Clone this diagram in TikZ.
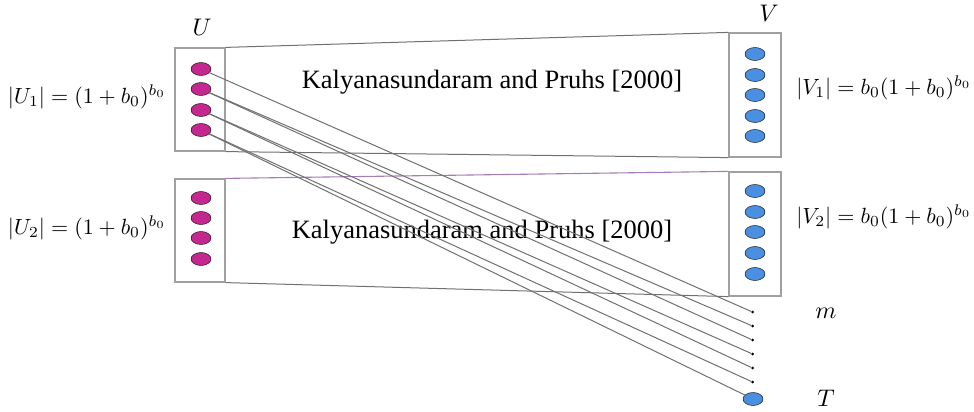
\documentclass[tikz,border=0pt]{standalone}
\usepackage{fontspec}
\newfontfamily\timesfont{Liberation Serif}
\usetikzlibrary{shapes.geometric}

\definecolor{umag}{HTML}{C4288F}
\definecolor{vblue}{HTML}{4A8FE0}
\definecolor{boxgray}{HTML}{A0A0A0}
\definecolor{wiregray}{HTML}{707070}
\definecolor{edgepurple}{HTML}{A77BB5}

\begin{document}
\begin{tikzpicture}[x=1pt, y=-1pt, every node/.style={inner sep=0pt},
  uell/.style={ellipse, draw, fill=umag, minimum width=20pt, minimum height=13pt},
  vell/.style={ellipse, draw, fill=vblue, minimum width=20pt, minimum height=13pt},
  partbox/.style={draw=boxgray, line width=1.2pt},
  mdot/.style={circle, fill, minimum size=3pt},
  wire/.style={draw=wiregray, line width=1pt},
  citetext/.style={anchor=base, font=\timesfont\fontsize{26.5}{31}\selectfont},
  biglabel/.style={scale=2.4},
  sizelabel/.style={scale=2.2}]

\useasboundingbox (0,0) rectangle (974,412);

\node (ub1) [partbox, minimum width=50pt, minimum height=103pt] at (200,99.5) {};
\node (vb1) [partbox, minimum width=52pt, minimum height=124pt] at (755,95) {};
\node (ub2) [partbox, minimum width=50pt, minimum height=103pt] at (200,230.5) {};
\node (vb2) [partbox, minimum width=52pt, minimum height=124pt] at (755,234) {};

\draw[wire] (ub1.north east) -- (vb1.north west);
\draw[wire] (ub1.south east) -- (vb1.south west);
\draw[draw=edgepurple, line width=1.1pt] (ub2.north east) -- (vb2.north west);
\draw[wire] (ub2.south east) -- (vb2.south west);

\node (kp1) [citetext] at (492,88.5) {Kalyanasundaram and Pruhs [2000]};
\node (kp2) [citetext] at (482,238.3) {Kalyanasundaram and Pruhs [2000]};

\foreach \i/\y in {1/69,2/89,3/110,4/130} \node (u1\i) [uell] at (201,\y) {};
\foreach \i/\y in {1/198,2/218,3/238,4/259} \node (u2\i) [uell] at (201,\y) {};
\foreach \i/\y in {1/54,2/75,3/95,4/116,5/136} \node (v1\i) [vell] at (755,\y) {};
\foreach \i/\y in {1/191,2/212,3/232,4/253,5/274} \node (v2\i) [vell] at (755,\y) {};
\foreach \i in {1,...,6} \node (d\i) [mdot] at (752.5,298+14*\i) {};
\node (t) [vell] at (753,399) {};

% edges from U_1 to the m points and T
\draw[wire] (u11) -- (d1);
\draw[wire] (u12) -- (d2);
\draw[wire] (u12) -- (d3);
\draw[wire] (u13) -- (d4);
\draw[wire] (u13) -- (d5);
\draw[wire] (u14) -- (d6);
\draw[wire] (u14) -- (t);

\node (lu) [biglabel] at (202,27) {$U$};
\node (lv) [biglabel] at (769,13) {$V$};
\node (lu1) [sizelabel] at (87,97) {$|U_1| = (1+b_0)^{b_0}$};
\node (lu2) [sizelabel] at (87,228) {$|U_2| = (1+b_0)^{b_0}$};
\node (lv1) [sizelabel] at (884,88) {$|V_1| = b_0(1+b_0)^{b_0}$};
\node (lv2) [sizelabel] at (884,217) {$|V_2| = b_0(1+b_0)^{b_0}$};
\node (lm) [biglabel] at (826,313) {$m$};
\node (lt) [biglabel] at (826,398) {$T$};

\end{tikzpicture}
\end{document}
